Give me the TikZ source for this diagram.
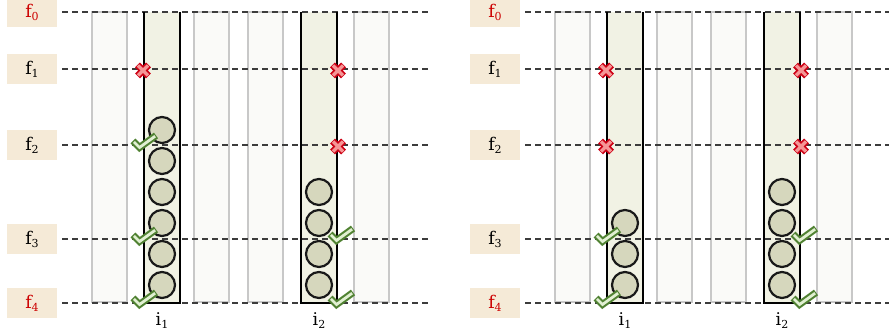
\documentclass[tikz,border=0pt]{standalone}
\usepackage{fontspec}
\newfontfamily\labfont{DejaVu Serif}
\newcommand{\lsub}[2]{#1\raisebox{-3pt}{\fontsize{11}{11}\selectfont #2}}
\definecolor{labbg}{RGB}{245,234,215}
\definecolor{labred}{RGB}{204,0,0}
\definecolor{dashgray}{RGB}{60,60,60}
\definecolor{colgray}{RGB}{200,200,200}
\definecolor{colfill}{RGB}{250,250,248}
\definecolor{selfill}{RGB}{241,242,228}
\definecolor{ballfill}{RGB}{214,215,189}
\definecolor{okdark}{RGB}{80,130,50}
\definecolor{oklight}{RGB}{225,240,210}
\definecolor{nodark}{RGB}{205,0,20}
\definecolor{nolight}{RGB}{245,150,150}
\begin{document}
\begin{tikzpicture}[x=1pt,y=-1pt,
  lab/.style={fill=labbg, minimum width=50pt, minimum height=30pt, inner sep=0pt, outer xsep=5pt, font=\labfont\fontsize{17.5}{19}\selectfont},
  redlab/.style={lab, text=labred},
  gridline/.style={dash pattern=on 6pt off 4pt, line width=1.1pt, draw=dashgray},
  graycol/.style={draw=colgray, fill=colfill, line width=1.6pt},
  selcol/.style={fill=selfill},
  seledge/.style={draw=black, line width=1.8pt},
  ball/.style={circle, draw=black!90, fill=ballfill, line width=2.2pt, minimum size=26pt, inner sep=0pt},
  ilab/.style={font=\labfont\fontsize{17.5}{19}\selectfont, inner sep=0pt},
  okmark/.pic={
    \draw[okdark, line width=7pt, line join=miter, line cap=butt] (-11,-1) -- (-4.5,5.5) -- (12,-6.5);
    \draw[oklight, line width=2.8pt, line join=miter, line cap=butt] (-10.1,-0.1) -- (-4.5,5.5) -- (11.1,-5.8);
  },
  nomark/.pic={
    \draw[nodark, line width=7pt] (-5.5,-5.5) -- (5.5,5.5) (-5.5,5.5) -- (5.5,-5.5);
    \draw[nolight, line width=3.2pt] (-5,-5) -- (5,5) (-5,5) -- (5,-5);
  }
]
\useasboundingbox (0,0) rectangle (889,336);

% ---------- columns ----------
\foreach \s in {0,463}{
  \foreach \a in {92,194,248,354}{
    \draw[graycol] (\a+\s,12) rectangle (\a+\s+35,302);
  }
  \foreach \a in {144,301}{
    \fill[selcol] (\a+\s,12) rectangle (\a+\s+36,303);
  }
}

% ---------- labels and grid lines ----------
\node[redlab] (L0) at (32,12)  {\lsub{f}{0}};
\node[lab]    (L1) at (32,69)  {\lsub{f}{1}};
\node[lab]    (L2) at (32,145) {\lsub{f}{2}};
\node[lab]    (L3) at (32,239) {\lsub{f}{3}};
\node[redlab] (L4) at (32,303) {\lsub{f}{4}};
\node[redlab] (R0) at (495,12)  {\lsub{f}{0}};
\node[lab]    (R1) at (495,69)  {\lsub{f}{1}};
\node[lab]    (R2) at (495,145) {\lsub{f}{2}};
\node[lab]    (R3) at (495,239) {\lsub{f}{3}};
\node[redlab] (R4) at (495,303) {\lsub{f}{4}};
\foreach \n/\y in {0/12,1/69,2/145,3/239,4/303}{
  \coordinate (LE\n) at (430,\y);
  \coordinate (RE\n) at (889,\y);
  \draw[gridline] (L\n.east) -- (LE\n);
  \draw[gridline] (R\n.east) -- (RE\n);
}

% ---------- selected column edges ----------
\foreach \a in {144,301,607,764}{
  \draw[seledge] (\a,12) -- (\a,303) -- (\a+36,303) -- (\a+36,12);
}

% ---------- balls ----------
\foreach \y [count=\k] in {285,254,223,192,161,130}{
  \node[ball] (LA\k) at (162,\y) {};
}
\foreach \y [count=\k] in {285,254,223,192}{
  \node[ball] (LB\k) at (319,\y) {};
  \node[ball] (RB\k) at (782,\y) {};
}
\foreach \y [count=\k] in {285,254,223}{
  \node[ball] (RA\k) at (625,\y) {};
}

% ---------- column labels ----------
\node[ilab] (LI1) at (162,321) {\lsub{i}{1}};
\node[ilab] (LI2) at (319,321) {\lsub{i}{2}};
\node[ilab] (RI1) at (625,321) {\lsub{i}{1}};
\node[ilab] (RI2) at (782,321) {\lsub{i}{2}};

% ---------- crosses ----------
\foreach \x/\y in {143/70.5,338/70.5,338/146.5,606/70.5,606/146.5,801/70.5,801/146.5}{
  \pic at (\x,\y) {nomark};
}
% ---------- checks ----------
\foreach \x/\y in {144/142,144/236,144/299,607/236,607/299}{
  \pic at (\x,\y) {okmark};
}
\foreach \x/\y in {341/235,341/299,804/235,804/299}{
  \pic at (\x,\y) {okmark};
}
\end{tikzpicture}
\end{document}
